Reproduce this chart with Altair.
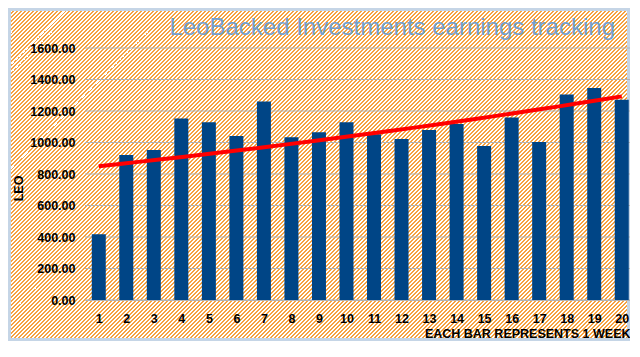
import altair as alt
import pandas as pd

# ---- data ----
weeks = list(range(1, 21))
leo = [418, 921, 953, 1153, 1128, 1041, 1260, 1033, 1065, 1128,
       1052, 1022, 1079, 1117, 978, 1159, 1003, 1304, 1346, 1272]
y_ticks = [0, 200, 400, 600, 800, 1000, 1200, 1400, 1600]
title_text = "LeoBacked Investments earnings tracking"

df = pd.DataFrame({"week": weeks, "leo": leo})
grid_df = pd.DataFrame({"v": y_ticks})

# ---- layout ----
PAD_L, PAD_T = 77, 40
W, H = 545, 252
TOTAL_W, TOTAL_H = 622, 333
PAD_R = TOTAL_W - PAD_L - W
PAD_B = TOTAL_H - PAD_T - H

FONT = "Liberation Sans"
ORANGE = "#f6a240"
WHITE = "#ffffff"

# ---- diagonal hatch background as a striped linear gradient ----
span = TOTAL_W + TOTAL_H
period = 4
stripe = 1.2
stops = []
i = 0
while i * period < span:
    a = (i * period) / span
    b = min((i * period + stripe) / span, 1.0)
    c = min(((i + 1) * period) / span, 1.0)
    stops += [
        {"color": ORANGE, "offset": a},
        {"color": ORANGE, "offset": b},
        {"color": WHITE, "offset": b},
        {"color": WHITE, "offset": c},
    ]
    i += 1
k = TOTAL_W * (TOTAL_W + TOTAL_H) / (TOTAL_W ** 2 + TOTAL_H ** 2)
grad = {"gradient": "linear", "x1": 0, "y1": 0, "x2": k, "y2": k * TOTAL_H / TOTAL_W, "stops": stops}

bg = alt.Chart(alt.Data(values=[{}])).mark_rect(
    fill=grad, stroke="#c5d5e6", strokeWidth=6
).encode(
    x=alt.value(-PAD_L), x2=alt.value(W + PAD_R),
    y=alt.value(-PAD_T), y2=alt.value(H + PAD_B),
)

x_scale = alt.Scale(domain=[0.5, 20.3], nice=False, zero=False, padding=0)
y_scale = alt.Scale(domain=[0, 1600], nice=False)

x_axis = alt.Axis(
    values=weeks, format="d", grid=False, ticks=False, zindex=2,
    labelPadding=12, labelFont=FONT, labelFontSize=12.5, labelFontWeight="bold",
    labelColor="#000000", domainColor="#b3b3b3",
    title="EACH BAR REPRESENTS 1 WEEK",
    titleFont=FONT, titleFontSize=12.5, titleFontWeight="bold", titleColor="#000000",
    titleX=W, titleY=37, titleAlign="right", titleBaseline="alphabetic",
)
y_axis = alt.Axis(
    values=y_ticks, format=".2f", ticks=False, domain=False, grid=False, zindex=2,
    labelPadding=10, labelFont=FONT, labelFontSize=12.5,
    labelFontWeight="bold", labelColor="#000000",
    title="LEO", titleFont=FONT, titleFontSize=12.5, titleFontWeight="bold",
    titleColor="#000000", titleX=-67, titleY=140, titleAngle=270,
    titleAlign="center", titleBaseline="middle",
)

grid = alt.Chart(grid_df).mark_rule(color="#b3b3b3", strokeWidth=1).encode(
    y=alt.Y("v:Q", scale=y_scale, axis=y_axis),
    x=alt.value(0), x2=alt.value(W),
)

bars = alt.Chart(df).mark_bar(color="#004586", size=14).encode(
    x=alt.X("week:Q", scale=x_scale, axis=x_axis),
    y=alt.Y("leo:Q", scale=y_scale, axis=y_axis),
)

trend = alt.Chart(df).transform_calculate(
    logv="log(datum.leo)"
).transform_regression(
    "week", "logv", method="poly", order=1
).transform_calculate(
    trend="exp(datum.logv)"
).mark_line(color="#ff0000", strokeWidth=4).encode(
    x=alt.X("week:Q", scale=x_scale, axis=x_axis),
    y=alt.Y("trend:Q", scale=y_scale, axis=y_axis),
)

title = alt.Chart(alt.Data(values=[{}])).mark_text(
    text=title_text, font=FONT, fontSize=24, fontWeight="normal", color="#729fcf",
    align="right", baseline="alphabetic",
).encode(x=alt.value(W - 15), y=alt.value(-13))

chart = alt.layer(bg, grid, bars, trend, title).properties(
    width=W, height=H,
    padding={"left": PAD_L, "top": PAD_T, "right": PAD_R, "bottom": PAD_B},
    autosize=alt.AutoSizeParams(type="none"),
).configure_view(stroke=None).configure(background="white")

chart.save("out.html", embed_options={"renderer": "svg", "actions": False})
